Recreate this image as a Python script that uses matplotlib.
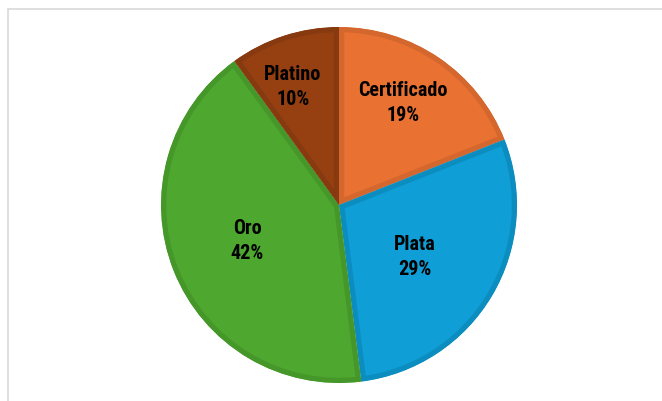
import numpy as np
import matplotlib.pyplot as plt
from matplotlib.patches import Rectangle

# Datos del gráfico
categorias = ['Certificado', 'Plata', 'Oro', 'Platino']
porcentajes = [19, 29, 42, 10]
colores = ['#E97132', '#0F9ED5', '#4EA72E', '#964011']
bordes = ['#D3672E', '#0C8DC0', '#46972A', '#873A10']
# ubicación de etiquetas (fracción del radio, desvío angular en grados)
dist_etiqueta = [0.676, 0.517, 0.555, 0.712]
desvio_ang = [2.1, -3.8, -0.2, 3.3]

W, H = 662, 401
fig = plt.figure(figsize=(W / 100, H / 100), dpi=100)
ax = fig.add_axes([0, 0, 1, 1])

# Marco del área del gráfico
ax.add_patch(Rectangle((7.5, -10), W + 20, H - 8 + 10 - 0.5, fill=False,
                       edgecolor='#D9D9D9', linewidth=1.2))

centro = (339, H - 205)
radio = 178
wedges, _ = ax.pie(porcentajes, colors=colores, startangle=90, counterclock=False,
                   center=centro, radius=radio, frame=True,
                   wedgeprops=dict(linewidth=7.5))
for w, b in zip(wedges, bordes):
    w.set_edgecolor(b)
    w.set_joinstyle('miter')
    w.set_clip_path(w)  # borde solo hacia adentro
    w.set_clip_on(True)

ax.set_xlim(0, W)
ax.set_ylim(0, H)
ax.set_aspect('equal')
ax.axis('off')

fuente = ['Roboto Condensed', 'DejaVu Sans']
for w, cat, pct, d, da in zip(wedges, categorias, porcentajes, dist_etiqueta, desvio_ang):
    ang = np.deg2rad((w.theta1 + w.theta2) / 2 + da)
    x = centro[0] + d * radio * np.cos(ang)
    y = centro[1] + d * radio * np.sin(ang)
    ax.text(x, y, f"{cat}\n{pct}%", ha='center', va='center', fontsize=14.5,
            fontweight='bold', family=fuente, fontstretch='condensed',
            linespacing=1.35, color='black')

fig.savefig('out.png', dpi=100)
